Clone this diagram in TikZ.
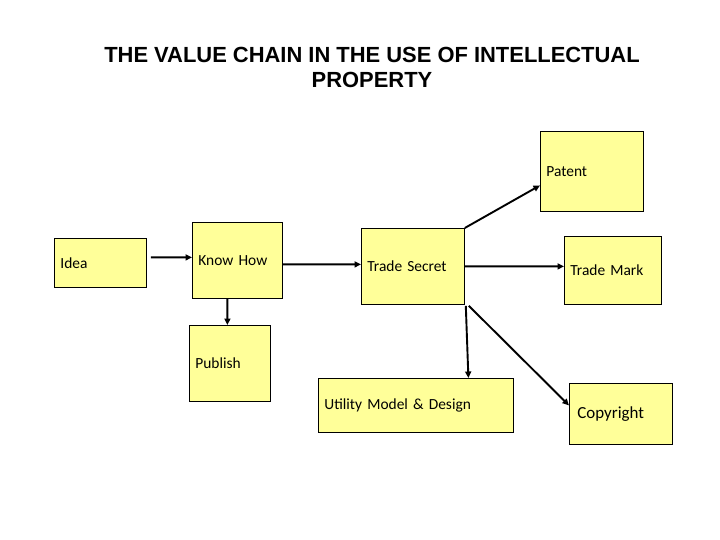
\documentclass[tikz,border=0pt]{standalone}
\usepackage{fontspec}
\setmainfont{Carlito}
\newfontfamily\titlefont{Liberation Sans}
\usetikzlibrary{arrows.meta}
\definecolor{boxfill}{HTML}{FFFF99}
\tikzset{
  flowarrow/.style={-{Triangle[length=6.5bp,width=6bp]}, line width=1.9bp},
  ipbox/.style={draw, line width=0.8bp, fill=boxfill, anchor=north west, inner ysep=0pt, inner xsep=6bp, align=left, font=\fontsize{15.5}{18}\selectfont},
  headline/.style={align=center, font=\titlefont\bfseries\fontsize{22}{25}\selectfont}
}
\begin{document}
\begin{tikzpicture}[x=1bp, y=-1bp]
  \useasboundingbox (0,0) rectangle (720,540);
  \node[headline] (title) at (372,67.5) {THE VALUE CHAIN IN THE USE OF INTELLECTUAL\\PROPERTY};
  % boxes
  \node[ipbox, text width=80bp, minimum height=49bp] (idea) at (54,238) {Idea};
  \node[ipbox, text width=78bp, minimum height=76bp] (knowhow) at (192,222) {Know How};
  \node[ipbox, text width=69bp, minimum height=76bp] (publish) at (189,325) {Publish};
  \node[ipbox, text width=91bp, minimum height=76bp] (secret) at (361,228) {Trade Secret};
  \node[ipbox, text width=91bp, minimum height=80bp] (patent) at (540,131) {Patent};
  \node[ipbox, text width=85bp, minimum height=68bp] (trademark) at (564,236) {Trade Mark};
  \node[ipbox, text width=183bp, minimum height=54bp] (utility) at (318,378) {Utility Model \& Design};
  \node[ipbox, inner xsep=8bp, text width=87bp, minimum height=61bp, font=\fontsize{17}{20}\selectfont] (copyright) at (569,383) {Copyright};
  % arrows
  \draw[flowarrow] ([xshift=4bp,yshift=5.5bp]idea.east) -- ([yshift=3bp]knowhow.west);
  \draw[flowarrow] ([yshift=-4bp]knowhow.east) -- ([yshift=2bp]secret.west);
  \draw[flowarrow] ([xshift=-10bp]knowhow.south) -- ([xshift=-2.5bp]publish.north);
  \draw[flowarrow] (secret.north east) -- ([yshift=-14bp]patent.west);
  \draw[flowarrow] (secret.east) -- ([yshift=4bp]trademark.west);
  \draw[flowarrow] ([xshift=1bp,yshift=-1bp]secret.south east) -- ([xshift=52.5bp]utility.north);
  \draw[flowarrow] ([xshift=4bp,yshift=-1bp]secret.south east) -- ([yshift=8.5bp]copyright.west);
\end{tikzpicture}
\end{document}
